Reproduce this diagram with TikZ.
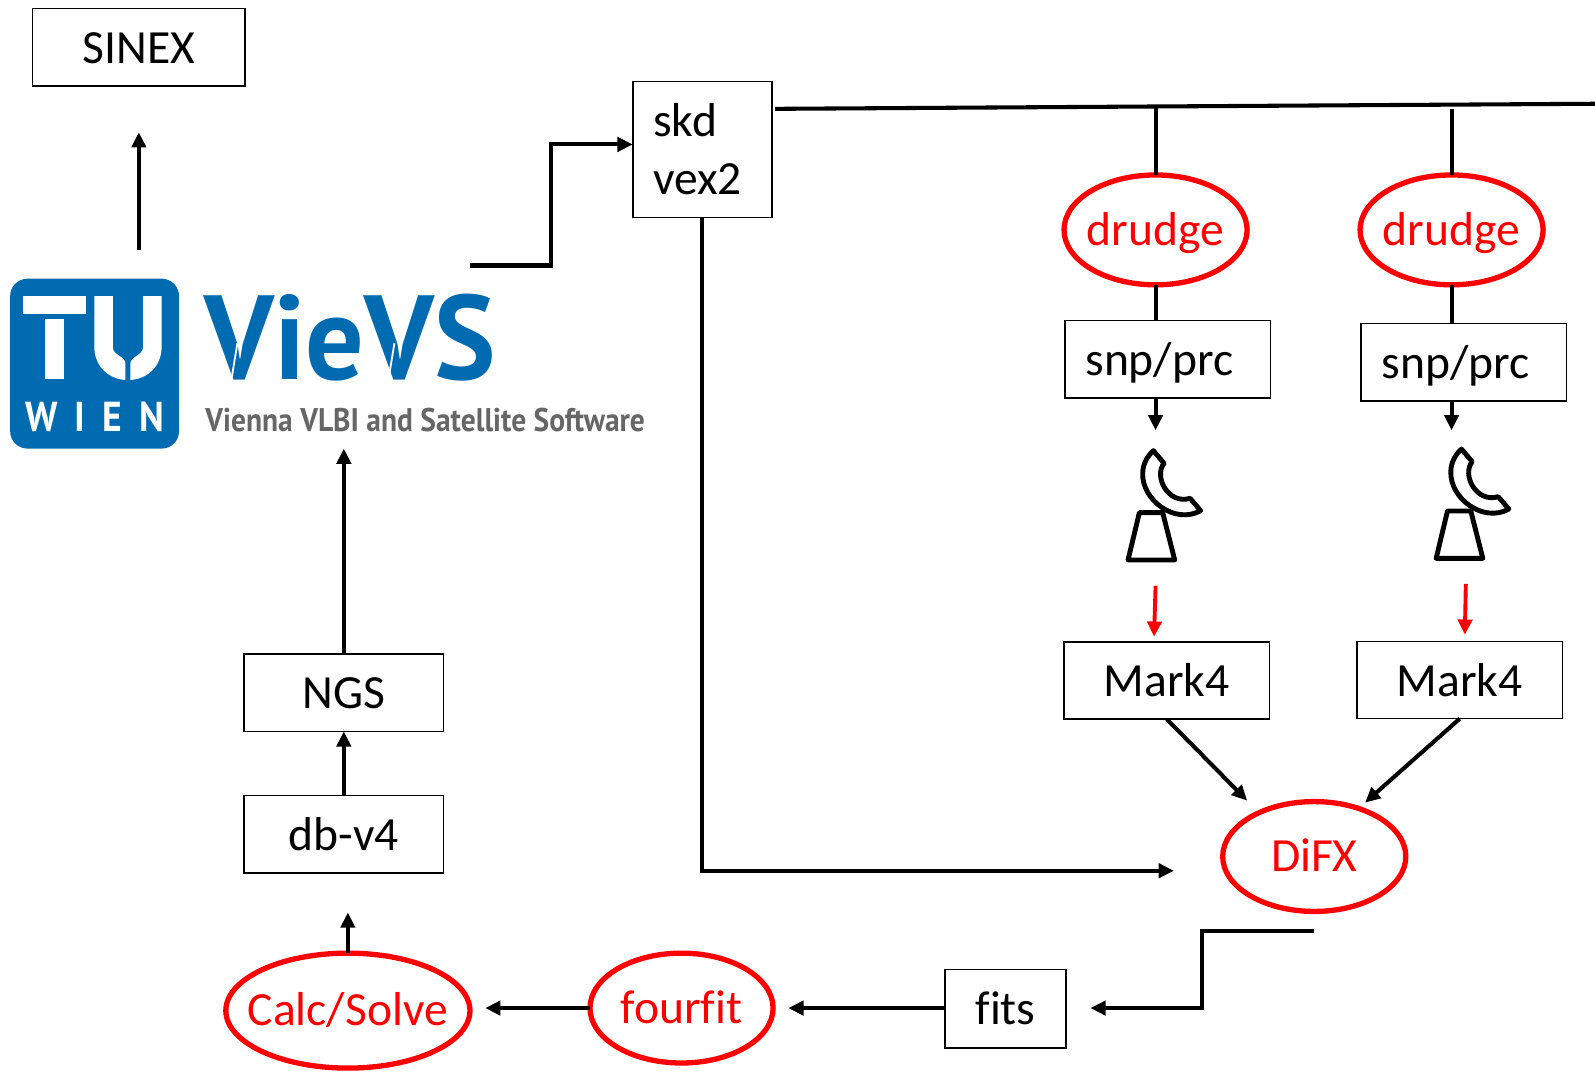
\documentclass[tikz,border=0pt]{standalone}
\usepackage{fontspec}
\usepackage{graphicx}
\setmainfont[Ligatures=CommonOff]{Carlito}
\newfontfamily\logofont{PT Sans}
\newfontfamily\wienfont[LetterSpace=45]{PT Sans}
\usetikzlibrary{arrows.meta,shapes.geometric,calc}
\definecolor{tublue}{HTML}{006BB0}
\definecolor{loggray}{HTML}{666666}
\newcommand{\ctext}[1]{\makebox[0pt]{#1}}
\tikzset{
  every node/.style={font=\fontsize{23.4}{28.5}\selectfont,inner sep=0pt,outer sep=0pt},
  box/.style={draw=black,line width=0.8pt,minimum width=101pt,minimum height=38pt,text height=20pt,text depth=4.2pt},
  leftbox/.style={box,align=left,inner xsep=10pt,text width=81pt},
  oval/.style={ellipse,draw=red,text=red,line width=2.6pt,minimum width=90pt,minimum height=54pt,text height=20pt,text depth=5pt},
  conn/.style={draw=black,line width=2pt},
  arr/.style={conn,-{Triangle[length=7.5pt,width=7pt]}},
  redarr/.style={draw=red,line width=1.9pt,-{Triangle[length=7.5pt,width=7pt]}},
  dishpic/.pic={
    \draw[line width=2.4pt,line join=round] (118,248) -- (188,248) -- (224,390) -- (84,390) -- cycle;
    \draw[line width=2.4pt,line join=round] (160,62) -- (192,100)
      .. controls (160,140) and (205,225) .. (270,205) -- (302,242)
      .. controls (225,285) and (125,210) .. (128,130)
      .. controls (128,100) and (145,75) .. (160,62) -- cycle;
  }
}
\begin{document}
\begin{tikzpicture}[x=0.5pt,y=-0.5pt]
\useasboundingbox (0,0) rectangle (1568,1054);
% boxes
\node[box,minimum width=104.5pt] (sinex) at (136.5,46.5) {SINEX};
\node[draw=black,line width=0.8pt,minimum width=68.5pt,minimum height=67pt,align=left,text width=58.5pt,inner xsep=5pt] (skd) at (690.5,147) {\hspace*{5pt}skd\\\hspace*{5pt}vex2};
\node[leftbox] (snpa) at (1148,353) {snp/prc};
\node[leftbox] (snpb) at (1439,356) {snp/prc};
\node[box] (marka) at (1147,669) {Mark4};
\node[box] (markb) at (1435,668.5) {Mark4};
\node[box,minimum width=98pt] (ngs) at (338,681) {NGS};
\node[box,minimum width=98pt] (dbv) at (338,820) {db-v4};
\node[box,minimum width=59.5pt,minimum height=38.5pt] (fits) at (988.5,991.5) {fits};
% ovals
\node[oval] (druga) at (1136,226) {\ctext{drudge}};
\node[oval] (drugb) at (1427,226) {\ctext{drudge}};
\node[oval] (difx) at (1292,842) {\ctext{DiFX}};
\node[oval] (four) at (670,991) {\ctext{fourfit}};
\node[oval,minimum width=120pt,minimum height=56.5pt] (calc) at (342,993.5) {\ctext{Calc/Solve}};
% logo
\fill[tublue,rounded corners=8.5pt] (10,274) rectangle (176,441);
\begin{scope}[shift={(0,255.6)},xscale=0.4138,yscale=0.3277]
  \fill[white] (55,108) rectangle (205,162);
  \fill[white] (108,178) rectangle (152,358);
  \fill[white] (224,108) -- (268,108) -- (268,262) .. controls (268,285) and (298,290) .. (298,310)
     -- (298,360) .. controls (250,355) and (224,310) .. (224,260) -- cycle;
  \fill[white] (384,108) -- (340,108) -- (340,262) .. controls (340,285) and (310,290) .. (310,310)
     -- (310,360) .. controls (358,355) and (384,310) .. (384,260) -- cycle;
\end{scope}
\node[anchor=south west,text=white] (wien) at (25,424.5) {\resizebox{68pt}{14.5pt}{\wienfont\bfseries WIEN}};
\node[anchor=south west,text=tublue] (vievs) at (201.5,375) {\resizebox{143pt}{42pt}{\logofont\bfseries VieVS}};
\node[anchor=south west,text=loggray] (vsub) at (202,425) {\resizebox{216pt}{11.5pt}{\logofont\bfseries Vienna VLBI and Satellite Software}};
\begin{scope}[shift={(0,255.6)},xscale=0.4138,yscale=0.3277]
  \draw[white,line width=0.9pt] (564,250) -- (548,372);
  \draw[white,line width=0.9pt] (937,250) -- (921,372);
\end{scope}
% antennas
\pic[scale=0.3277] (anta) at (1081.4,422.7) {dishpic};
\pic[scale=0.3277] (antb) at (1384.3,421.1) {dishpic};
% free ends
\coordinate (sinexfrom) at (136.5,246);
\coordinate (sinexto) at (136.5,130);
\coordinate (vsout) at (462,261);
\coordinate (topl) at (762,107);
\coordinate (topr) at (1568,102);
\coordinate (tapa) at (1136,106);
\coordinate (tapb) at (1427,107.5);
\coordinate (antaup) at (1136,423);
\coordinate (antbup) at (1427,423);
\coordinate (reda1) at (1136,576);
\coordinate (reda2) at (1134.5,626);
\coordinate (redb1) at (1441,574);
\coordinate (redb2) at (1440,624);
\coordinate (difxin) at (1154,856);
\coordinate (difxout) at (1292,915);
\coordinate (fitsin) at (1072,991);
\coordinate (fourin) at (775,991);
\coordinate (calcin) at (477,991);
\coordinate (dbin) at (342,897);
\coordinate (logoin) at (338,441);
\coordinate (difxa) at (1226,787);
\coordinate (difxb) at (1342,789);
% connectors
\draw[arr] (sinexfrom) -- (sinexto);
\draw[arr] (vsout) -- (542,261) -- (542,142) -- (skd.west |- 0,142);
\draw[conn] (topl) -- (topr);
\draw[conn] (tapa) -- (druga.north);
\draw[conn] (tapb) -- (drugb.north);
\draw[conn] (druga.south) -- (druga.south |- snpa.north);
\draw[conn] (drugb.south) -- (drugb.south |- snpb.north);
\draw[arr] (druga.south |- snpa.south) -- (antaup);
\draw[arr] (drugb.south |- snpb.south) -- (antbup);
\draw[redarr] (reda1) -- (reda2);
\draw[redarr] (redb1) -- (redb2);
\draw[arr] (marka.south) -- (difxa);
\draw[arr] (markb.south) -- (difxb);
\draw[arr] (skd.south) -- (skd.south |- difxin) -- (difxin);
\draw[arr] (difxout) -- (1182,915) -- (1182,991) -- (fitsin);
\draw[arr] (fits.west |- fourin) -- (fourin);
\draw[arr] (four.west |- calcin) -- (calcin);
\draw[arr] (calc.north) -- (dbin);
\draw[arr] (dbv.north) -- (ngs.south);
\draw[arr] (ngs.north) -- (logoin);
\end{tikzpicture}
\end{document}
